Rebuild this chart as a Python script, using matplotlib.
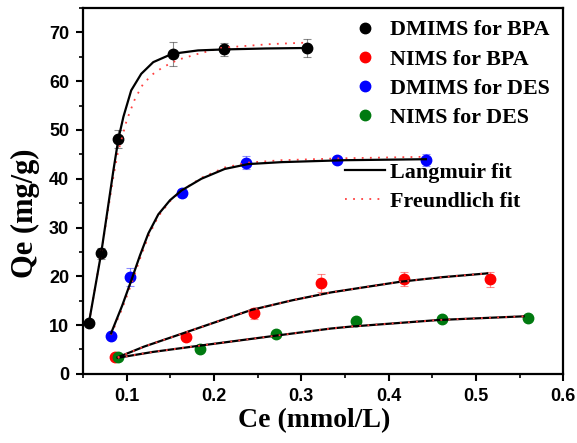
from pathlib import Path

import matplotlib.pyplot as plt
from matplotlib.lines import Line2D
from matplotlib.ticker import MultipleLocator


OUTPUT_PATH = Path("out.png")

SERIES_NAMES = ["DMIMS for BPA", "NIMS for BPA", "DMIMS for DES", "NIMS for DES"]
SERIES_COLORS = ["#000000", "#ff0000", "#0000ff", "#007a10"]

# measured points (Ce, Qe, error)
dmims_bpa_ce = [0.0566, 0.0707, 0.0905, 0.1525, 0.211, 0.3065]
dmims_bpa_qe = [10.4, 24.7, 48.2, 65.6, 66.5, 66.8]
dmims_bpa_err = [0.6, 1.2, 1.8, 2.4, 1.4, 1.9]

nims_bpa_ce = [0.086, 0.1677, 0.2453, 0.3223, 0.4175, 0.516]
nims_bpa_qe = [3.4, 7.6, 12.4, 18.6, 19.4, 19.4]
nims_bpa_err = [0.4, 0.6, 1.2, 1.9, 1.4, 1.5]

dmims_des_ce = [0.082, 0.1038, 0.1636, 0.2363, 0.3407, 0.4427]
dmims_des_qe = [7.85, 19.9, 37.0, 43.3, 43.9, 43.9]
dmims_des_err = [0.5, 1.8, 0.8, 1.3, 0.5, 1.2]

nims_des_ce = [0.0897, 0.1837, 0.2712, 0.3626, 0.4612, 0.5594]
nims_des_qe = [3.4, 5.1, 8.2, 10.85, 11.2, 11.4]
nims_des_err = [0.3, 0.4, 0.4, 0.5, 0.4, 0.5]

# fit curves
lang_dmims_bpa_x = [0.0566, 0.0707, 0.0848, 0.0905, 0.0962, 0.1051, 0.1166,
                    0.1304, 0.152, 0.1817, 0.211, 0.26, 0.3065]
lang_dmims_bpa_y = [10.4, 24.7, 41.8, 48.2, 52.7, 58.1, 61.5,
                    63.9, 65.6, 66.3, 66.5, 66.7, 66.8]
freu_dmims_bpa_x = [0.0566, 0.0707, 0.0848, 0.0897, 0.1, 0.1095, 0.119, 0.1304,
                    0.1418, 0.1589, 0.1817, 0.2084, 0.2275, 0.265, 0.3065]
freu_dmims_bpa_y = [10.4, 24.7, 40.5, 45.2, 52.0, 56.4, 59.5, 61.5,
                    62.9, 64.4, 65.6, 66.8, 67.1, 67.6, 67.9]

lang_dmims_des_x = [0.082, 0.0948, 0.1057, 0.1152, 0.1248, 0.1362, 0.1496,
                    0.1628, 0.1856, 0.2122, 0.2389, 0.277, 0.35, 0.4427]
lang_dmims_des_y = [8.3, 14.0, 19.4, 24.3, 28.8, 32.7, 35.6,
                    37.6, 40.0, 42.0, 43.0, 43.4, 43.8, 44.0]
freu_dmims_des_x = [0.082, 0.0948, 0.1057, 0.1152, 0.1248, 0.1362, 0.1496,
                    0.1628, 0.1856, 0.2122, 0.2389, 0.277, 0.35, 0.4427]
freu_dmims_des_y = [8.0, 13.4, 18.6, 23.6, 28.2, 32.3, 35.4,
                    37.6, 40.2, 42.3, 43.3, 43.8, 44.2, 44.5]

lang_nims_bpa_x = [0.0897, 0.12, 0.1666, 0.2, 0.2427, 0.29, 0.334, 0.37, 0.414, 0.46, 0.513]
lang_nims_bpa_y = [3.4, 5.6, 8.45, 10.5, 13.1, 15.1, 16.7, 17.7, 18.9, 19.8, 20.6]

lang_nims_des_x = [0.0897, 0.13, 0.18, 0.2693, 0.334, 0.357, 0.4577, 0.5547]
lang_nims_des_y = [3.3, 4.5, 5.7, 7.8, 9.3, 9.7, 11.05, 11.8]

X_TICKS = [0.1, 0.2, 0.3, 0.4, 0.5, 0.6]
Y_TICKS = [0, 10, 20, 30, 40, 50, 60, 70]

SERIF = ["Liberation Serif", "DejaVu Serif"]
SANS = ["Liberation Sans", "DejaVu Sans"]
FREUNDLICH_STYLE = dict(color="#ff4040", linestyle=(0, (1, 3.5)), linewidth=1.3)
LANGMUIR_STYLE = dict(color="black", linestyle="-", linewidth=1.6)


def create_isotherm_chart() -> Path:
    """Draw the adsorption isotherms with Langmuir and Freundlich fits."""
    fig = plt.figure(figsize=(5.77, 4.43), dpi=100)
    ax = fig.add_axes([0.144, 0.156, 0.832, 0.826])

    points = [
        (dmims_bpa_ce, dmims_bpa_qe, dmims_bpa_err),
        (nims_bpa_ce, nims_bpa_qe, nims_bpa_err),
        (dmims_des_ce, dmims_des_qe, dmims_des_err),
        (nims_des_ce, nims_des_qe, nims_des_err),
    ]
    for (ce, qe, err), color in zip(points, SERIES_COLORS):
        ax.errorbar(ce, qe, yerr=err, fmt="none", ecolor=color, alpha=0.45,
                    elinewidth=0.8, capsize=3, capthick=0.8, zorder=2)
        ax.plot(ce, qe, "o", color=color, markersize=7.5, zorder=3)

    # Freundlich first, Langmuir on top
    ax.plot(freu_dmims_bpa_x, freu_dmims_bpa_y, zorder=4, **FREUNDLICH_STYLE)
    ax.plot(freu_dmims_des_x, freu_dmims_des_y, zorder=4, **FREUNDLICH_STYLE)
    ax.plot(lang_dmims_bpa_x, lang_dmims_bpa_y, zorder=5, **LANGMUIR_STYLE)
    ax.plot(lang_dmims_des_x, lang_dmims_des_y, zorder=5, **LANGMUIR_STYLE)
    for x, y in [(lang_nims_bpa_x, lang_nims_bpa_y), (lang_nims_des_x, lang_nims_des_y)]:
        ax.plot(x, y, zorder=5, **LANGMUIR_STYLE)
        ax.plot(x, y, zorder=6, **FREUNDLICH_STYLE)

    ax.set_xlim(0.05, 0.6)
    ax.set_ylim(0, 75)
    ax.set_xticks(X_TICKS)
    ax.set_yticks(Y_TICKS)
    ax.xaxis.set_minor_locator(MultipleLocator(0.05))
    ax.yaxis.set_minor_locator(MultipleLocator(5))
    ax.tick_params(which="major", direction="out", length=5, width=1.5,
                   top=False, right=False)
    ax.tick_params(axis="x", which="major", pad=5.5)
    ax.tick_params(axis="y", which="major", pad=5)
    ax.tick_params(which="minor", direction="out", length=3, width=1.2,
                   top=False, right=False)
    for spine in ax.spines.values():
        spine.set_linewidth(1.6)

    for label in ax.get_xticklabels() + ax.get_yticklabels():
        label.set_family(SANS)
        label.set_fontweight("bold")
        label.set_fontsize(13)

    ax.set_xlabel("Ce (mmol/L)", family=SERIF, fontweight="bold", fontsize=20)
    ax.set_ylabel("Qe (mg/g)", family=SERIF, fontweight="bold", fontsize=22)
    ax.xaxis.set_label_coords(0.482, -0.093)
    ax.yaxis.set_label_coords(-0.09, 0.44)

    marker_handles = [
        Line2D([], [], marker="o", linestyle="none", color=c, markersize=7.5)
        for c in SERIES_COLORS
    ]
    legend_font = dict(family=SERIF, weight="bold", size=15.8)
    first = ax.legend(marker_handles, SERIES_NAMES, loc="upper left",
                      bbox_to_anchor=(0.56, 0.967), frameon=False, prop=legend_font,
                      handlelength=1.2, handletextpad=0.55, labelspacing=0.4,
                      borderpad=0, borderaxespad=0)
    ax.add_artist(first)
    fit_handles = [Line2D([], [], **LANGMUIR_STYLE), Line2D([], [], **FREUNDLICH_STYLE)]
    ax.legend(fit_handles, ["Langmuir fit", "Freundlich fit"], loc="upper left",
              bbox_to_anchor=(0.546, 0.578), frameon=False, prop=legend_font,
              handlelength=1.82, handletextpad=0.23, labelspacing=0.4,
              borderpad=0, borderaxespad=0)

    fig.savefig(OUTPUT_PATH, dpi=100)
    plt.close(fig)
    return OUTPUT_PATH


if __name__ == "__main__":
    create_isotherm_chart()
